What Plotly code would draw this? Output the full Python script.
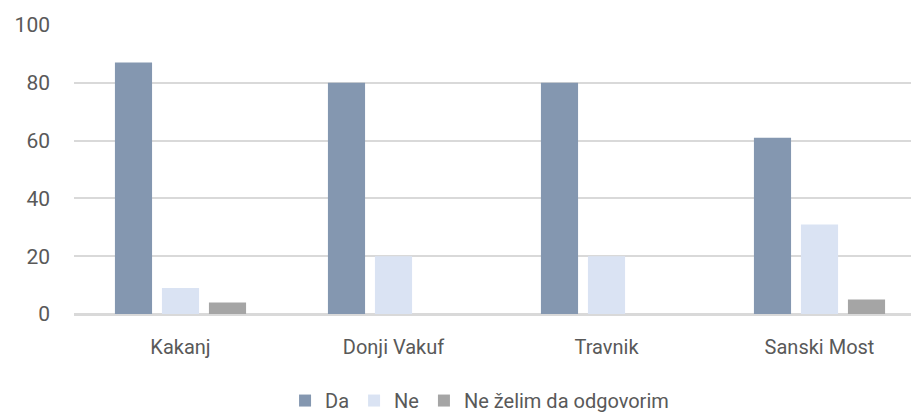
import plotly.graph_objects as go

categories = ["Kakanj", "Donji Vakuf", "Travnik", "Sanski Most"]
da = [87, 80, 80, 61]
ne = [9, 20, 20, 31]
ne_zelim = [4, None, None, 5]
y_ticks = [0, 20, 40, 60, 80, 100]

fig = go.Figure()
fig.add_bar(name="Da", x=categories, y=da, marker=dict(color="#8497B0", line=dict(width=0)))
fig.add_bar(name="Ne", x=categories, y=ne, marker=dict(color="#DAE3F3", line=dict(width=0)))
fig.add_bar(name="Ne želim da odgovorim", x=categories, y=ne_zelim, marker=dict(color="#A5A5A5", line=dict(width=0)))

fig.update_layout(
    width=918, height=404,
    margin=dict(l=66, r=0, t=17, b=98, autoexpand=False),
    plot_bgcolor="white", paper_bgcolor="white",
    barmode="group", bargap=0.338, bargroupgap=0.21,
    font=dict(family="Roboto", color="#595959", size=20),
    legend=dict(orientation="h", x=0.476, xanchor="center", y=-0.232, yanchor="top",
                font=dict(size=20), itemwidth=30, traceorder="normal"),
    showlegend=True,
)
fig.update_yaxes(range=[0, 100], tickvals=y_ticks, showgrid=True, gridcolor="#D9D9D9", gridwidth=1.5,
                 zeroline=True, zerolinecolor="#D9D9D9", zerolinewidth=1.5, ticklabelstandoff=23,
                 tickfont=dict(size=21), automargin=False)
fig.update_xaxes(showline=True, linecolor="#D9D9D9", linewidth=1.5, tickfont=dict(size=20),
                 ticklabelstandoff=14, automargin=False)

fig.write_html("out.html")
